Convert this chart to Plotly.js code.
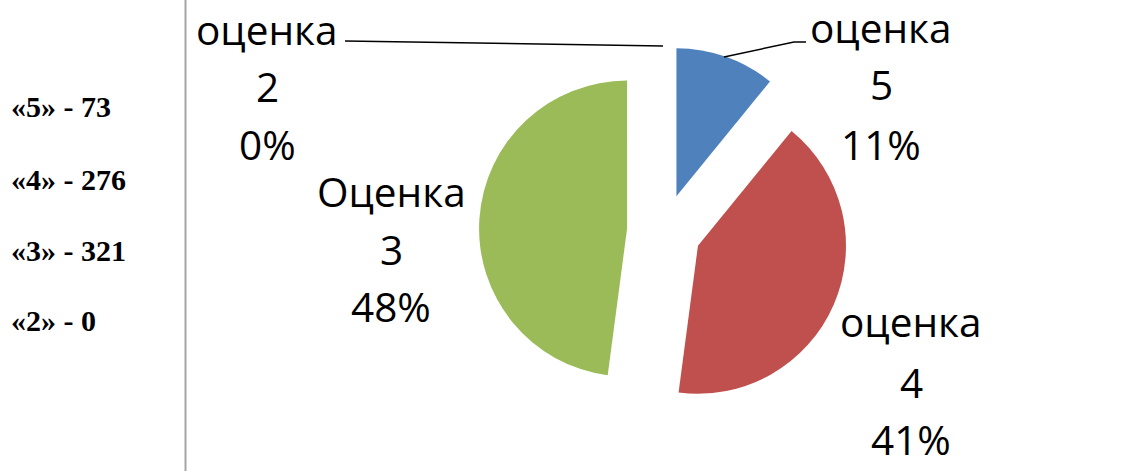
<!DOCTYPE html>
<html>
<head>
<meta charset="utf-8">
<script src="https://cdn.plot.ly/plotly-3.0.1.min.js"></script>
<style>
  html, body { margin: 0; padding: 0; background: #ffffff; }
  #chart { width: 1129px; height: 471px; }
</style>
</head>
<body>
<div id="chart"></div>
<script>
// ---- data ----
const categories = ['оценка 5', 'оценка 4', 'Оценка 3', 'оценка 2'];
const gradeKeys = ['5', '4', '3', '2'];
const counts = [73, 276, 321, 0];

// ---- styles / layout helpers ----
const W = 1129, H = 471;
const sliceColors = ['#4F81BD', '#C0504D', '#9BBB59', '#8064A2'];
const px = x => x / W;
const py = y => 1 - y / H;

// pie placement (center 664,231 ; radius 148 ; pull 0.25)
const cx = 664, cy = 231, R = 148, pull = 0.25;
const half = R * (1 + pull);

const total = counts.reduce((a, b) => a + b, 0);

// label placement: center x and baselines of each line (px) for each category
const labelPos = [
  { x: 881, base: [43, 100, 160] },   // оценка 5
  { x: 911, base: [337, 398, 455] },  // оценка 4
  { x: 391, base: [207, 265, 322] },  // Оценка 3
  { x: 267, base: [45, 102, 160] }    // оценка 2
];
const labelFont = { family: 'Open Sans, Noto Sans, sans-serif', size: 40.5, color: '#000000' };

const annotations = [];
categories.forEach((cat, i) => {
  const parts = cat.split(' ');
  const pct = Math.round(counts[i] / total * 100) + '%';
  const lines = [parts[0], parts[1], pct];
  lines.forEach((t, j) => {
    annotations.push({
      xref: 'paper', yref: 'paper',
      x: px(labelPos[i].x), y: py(labelPos[i].base[j] - 15.5),
      xanchor: 'center', yanchor: 'middle',
      text: t, showarrow: false, font: labelFont
    });
  });
});

// left list
const listBase = [117, 189, 260, 330];
gradeKeys.forEach((g, i) => {
  annotations.push({
    xref: 'paper', yref: 'paper',
    x: px(9), y: py(listBase[i] - 10),
    xanchor: 'left', yanchor: 'middle',
    text: '«' + g + '» - ' + counts[i],
    showarrow: false,
    font: { family: 'Liberation Serif, Times New Roman, serif', size: 30, color: '#000000', weight: 'bold' }
  });
});

const shapes = [
  // vertical divider
  { type: 'line', xref: 'paper', yref: 'paper', x0: px(185.5), x1: px(185.5), y0: 0, y1: 1,
    line: { color: '#a6a6a6', width: 2 } },
  // leader line for оценка 2
  { type: 'line', xref: 'paper', yref: 'paper', x0: px(345), y0: py(41), x1: px(663), y1: py(46),
    line: { color: '#000000', width: 1.5 } },
  // leader line for оценка 5
  { type: 'path', xref: 'paper', yref: 'paper',
    path: 'M ' + px(724) + ',' + py(57) + ' L ' + px(794) + ',' + py(42) + ' L ' + px(806) + ',' + py(42),
    line: { color: '#000000', width: 1.5 } }
];

const trace = {
  type: 'pie',
  labels: categories,
  values: counts,
  sort: false,
  direction: 'clockwise',
  rotation: 0,
  pull: pull,
  textinfo: 'none',
  hoverinfo: 'label+value+percent',
  marker: { colors: sliceColors, line: { width: 0 } },
  domain: { x: [px(cx - half), px(cx + half)], y: [py(cy + half), py(cy - half)] }
};

const layout = {
  width: W, height: H,
  margin: { l: 0, r: 0, t: 0, b: 0 },
  paper_bgcolor: '#ffffff',
  plot_bgcolor: '#ffffff',
  showlegend: false,
  annotations: annotations,
  shapes: shapes
};

Plotly.newPlot('chart', [trace], layout, { displayModeBar: false, staticPlot: true });
</script>
</body>
</html>
